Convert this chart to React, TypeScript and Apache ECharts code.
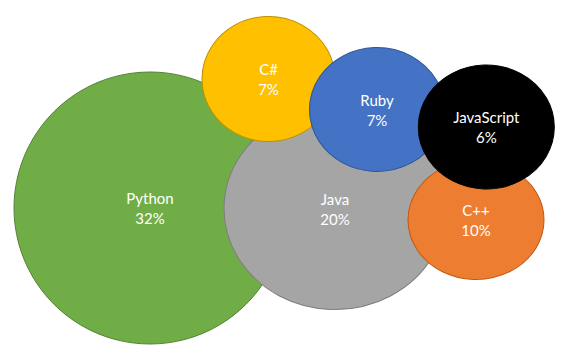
import React, { useEffect, useRef } from "react";
import * as echarts from "echarts";

const languages = ["Python", "Java", "C#", "Ruby", "C++", "JavaScript"];
const shares = [32, 20, 7, 7, 10, 6];
const xValues = [15.0, 33.5, 26.85, 37.7, 47.6, 48.63];
const yValues = [15.2, 15.15, 28.1, 25.05, 14.0, 23.3];
const bubbleWidths = [272, 222, 133, 135, 136, 136];
const bubbleHeights = [272, 202, 125, 124, 119, 124];
const fillColors = ["#70AD47", "#A5A5A5", "#FFC000", "#4472C4", "#ED7D31", "#000000"];
const borderColors = ["#548235", "#7F7F7F", "#BF9000", "#2F5597", "#C55A11", "#000000"];

export default function App() {
  const ref = useRef<HTMLDivElement>(null);
  useEffect(() => {
    document.body.style.margin = "0";
    const chart = echarts.init(ref.current!, null, { renderer: "svg" });
    chart.setOption({
      animation: false,
      grid: { left: 0, right: 0, top: 0, bottom: 0 },
      xAxis: { type: "value", min: 0, max: 57, show: false },
      yAxis: { type: "value", min: 0, max: 36, show: false },
      series: [
        {
          type: "scatter",
          symbol: "circle",
          data: languages.map((name, i) => ({
            name,
            value: [xValues[i], yValues[i], shares[i]],
            symbolSize: [bubbleWidths[i], bubbleHeights[i]],
            itemStyle: {
              color: fillColors[i],
              borderColor: borderColors[i],
              borderWidth: 1,
              opacity: 1,
            },
          })),
          label: {
            show: true,
            position: "inside",
            formatter: (p: any) => `${p.name}\n${p.value[2]}%`,
            color: "#ffffff",
            fontFamily: "Lato, 'Open Sans', sans-serif",
            fontSize: 15,
            lineHeight: 20,
          },
          emphasis: { disabled: true },
        },
      ],
    });
    return () => chart.dispose();
  }, []);
  return <div ref={ref} style={{ width: 570, height: 360 }} />;
}
